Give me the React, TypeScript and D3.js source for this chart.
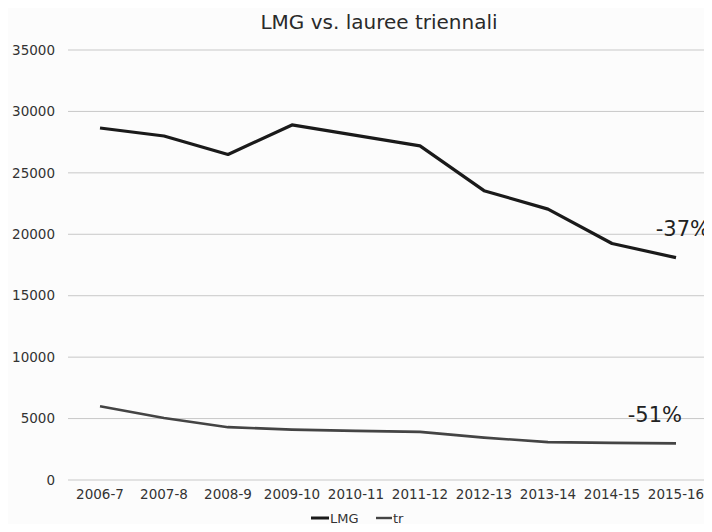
import * as d3 from "d3";
import { useEffect, useRef } from "react";

const categories = ["2006-7", "2007-8", "2008-9", "2009-10", "2010-11", "2011-12", "2012-13", "2013-14", "2014-15", "2015-16"];
const lmg = [28650, 28000, 26500, 28900, 28050, 27200, 23550, 22050, 19250, 18100];
const tr = [6000, 5050, 4300, 4100, 4000, 3920, 3450, 3080, 3020, 2980];
const yTicks = [0, 5000, 10000, 15000, 20000, 25000, 30000, 35000];
const notes = [
  { text: "-37%", value: 19900, dx: 34 },
  { text: "-51%", value: 4750, dx: 6 },
];

function LineChart() {
  const svgRef = useRef(null);

  useEffect(() => {
    const svg = d3.select(svgRef.current);
    svg.selectAll("*").remove();
    const font = "'DejaVu Sans', Verdana, sans-serif";
    const left = 68, right = 708, top = 50, bottom = 480;

    svg.append("rect").attr("width", 712).attr("height", 532).attr("fill", "#fcfcfc");

    const x = d3.scaleBand().domain(categories).range([left, right]);
    const y = d3.scaleLinear().domain([0, 35000]).range([bottom, top]);
    const cx = (c) => x(c) + x.bandwidth() / 2;

    svg.append("text")
      .attr("x", 379).attr("y", 29)
      .attr("text-anchor", "middle")
      .attr("font-family", font).attr("font-size", 20).attr("fill", "#2a2a2a")
      .text("LMG vs. lauree triennali");

    svg.append("g").selectAll("line").data(yTicks).enter().append("line")
      .attr("x1", left).attr("x2", right)
      .attr("y1", (d) => y(d)).attr("y2", (d) => y(d))
      .attr("stroke", "#c8c8c8").attr("stroke-width", 1);

    svg.append("g").selectAll("text").data(yTicks).enter().append("text")
      .attr("x", 55).attr("y", (d) => y(d)).attr("dy", "0.35em")
      .attr("text-anchor", "end")
      .attr("font-family", font).attr("font-size", 13.5).attr("fill", "#333")
      .text((d) => d);

    svg.append("g").selectAll("text").data(categories).enter().append("text")
      .attr("x", (d) => cx(d)).attr("y", 499)
      .attr("text-anchor", "middle")
      .attr("font-family", font).attr("font-size", 13.5).attr("fill", "#333")
      .text((d) => d);

    const line = d3.line().x((d) => cx(d[0])).y((d) => y(d[1]));

    svg.append("path")
      .datum(categories.map((c, i) => [c, tr[i]]))
      .attr("d", line).attr("fill", "none")
      .attr("stroke", "#444").attr("stroke-width", 2.6).attr("stroke-linejoin", "round");

    svg.append("path")
      .datum(categories.map((c, i) => [c, lmg[i]]))
      .attr("d", line).attr("fill", "none")
      .attr("stroke", "#1a1a1a").attr("stroke-width", 3.2).attr("stroke-linejoin", "round");

    svg.append("g").selectAll("text").data(notes).enter().append("text")
      .attr("x", (d) => cx(categories[categories.length - 1]) + d.dx)
      .attr("y", (d) => y(d.value))
      .attr("text-anchor", "end")
      .attr("font-family", font).attr("font-size", 21).attr("fill", "#222")
      .text((d) => d.text);

    // legend
    const legend = svg.append("g").attr("font-family", font).attr("font-size", 13).attr("fill", "#333");
    legend.append("line").attr("x1", 311).attr("x2", 329).attr("y1", 518).attr("y2", 518)
      .attr("stroke", "#1a1a1a").attr("stroke-width", 3);
    legend.append("text").attr("x", 330).attr("y", 523).text("LMG");
    legend.append("line").attr("x1", 376).attr("x2", 392).attr("y1", 518).attr("y2", 518)
      .attr("stroke", "#444").attr("stroke-width", 2.4);
    legend.append("text").attr("x", 393).attr("y", 523).text("tr");
  }, []);

  return <svg ref={svgRef} width="712" height="532" style={{ display: "block" }}></svg>;
}

export default function App() {
  return (
    <div style={{ margin: -8 }}>
      <LineChart />
    </div>
  );
}
